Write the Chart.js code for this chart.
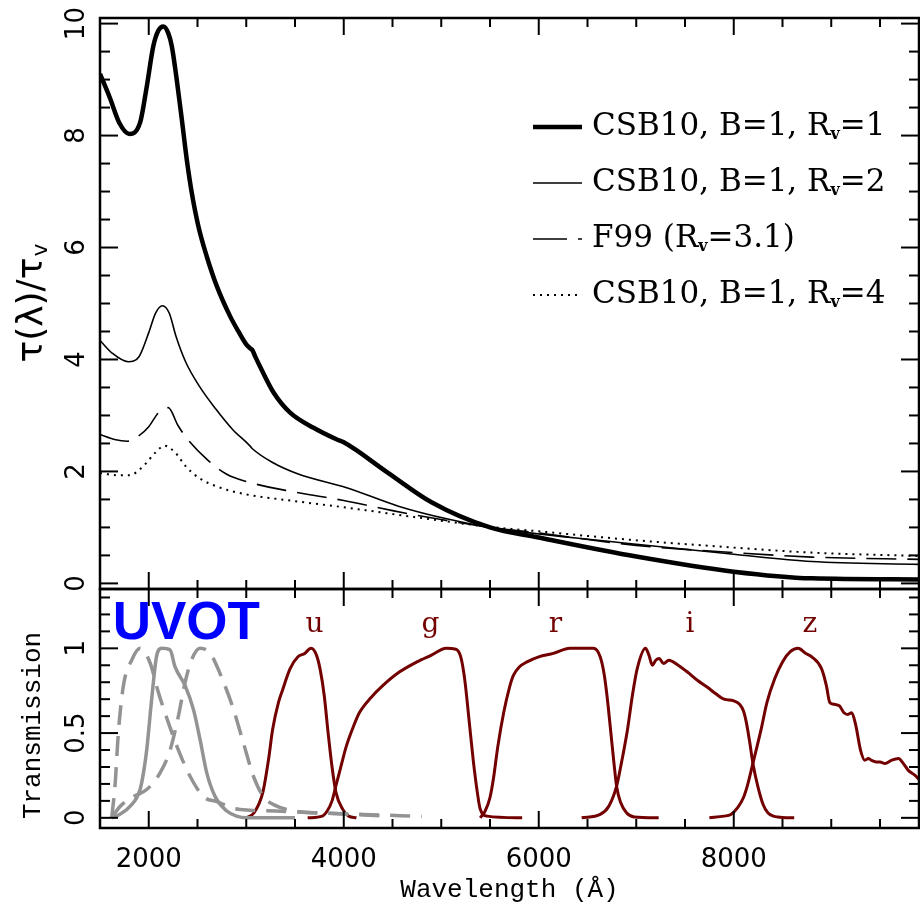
<!DOCTYPE html>
<html>
<head>
    <title>Extinction curves and filter transmission</title>
    <script src="https://cdn.jsdelivr.net/npm/chart.js"></script>
    <style>
        body { margin: 0; background: #fff; }
    </style>
</head>
<body>
    <canvas id="myChart" width="920" height="910"></canvas>
    <script>
        // top panel: tau(lambda)/tau_V
        var csb1Wave = [1500, 1600, 1700, 1800, 1911, 1980, 2047, 2100, 2150, 2200, 2236, 2287, 2339, 2390, 2441, 2509, 2595, 2698, 2835, 2920, 3000, 3040, 3065, 3090, 3140, 3280, 3450, 3690, 3930, 4000, 4450, 4900, 5500, 6000, 7000, 8000, 8800, 9900];
        var csb1Tau  = [9.1, 8.68, 8.22, 8.03, 8.23, 8.88, 9.6, 9.88, 9.95, 9.83, 9.6, 9.0, 8.29, 7.57, 6.98, 6.38, 5.84, 5.31, 4.77, 4.5, 4.27, 4.2, 4.16, 4.06, 3.88, 3.41, 3.05, 2.78, 2.57, 2.52, 1.98, 1.45, 1.0, 0.82, 0.48, 0.21, 0.09, 0.07];

        var csb2Wave = [1500, 1620, 1790, 1900, 2000, 2070, 2140, 2210, 2280, 2380, 2520, 2690, 2860, 3030, 3060, 3270, 3540, 4030, 4560, 5090, 5500, 7000, 8000, 8800, 9900];
        var csb2Tau  = [4.34, 4.12, 3.96, 4.05, 4.48, 4.83, 4.96, 4.83, 4.41, 3.95, 3.52, 3.11, 2.75, 2.47, 2.41, 2.16, 1.95, 1.71, 1.38, 1.14, 1.0, 0.7, 0.52, 0.39, 0.34];

        var f99Wave = [1500, 1650, 1780, 1900, 2000, 2100, 2200, 2300, 2400, 2600, 2800, 3000, 3500, 4000, 4500, 5000, 5500, 6000, 7000, 8000, 8800, 9900];
        var f99Tau  = [2.66, 2.57, 2.54, 2.64, 2.8, 3.05, 3.14, 2.82, 2.57, 2.21, 1.95, 1.82, 1.63, 1.48, 1.3, 1.14, 1.0, 0.9, 0.68, 0.55, 0.47, 0.43];

        var csb4Wave = [1500, 1700, 1800, 1930, 2070, 2160, 2270, 2380, 2510, 2700, 3000, 3500, 4000, 4500, 5000, 5500, 6000, 7000, 8000, 8800, 9900];
        var csb4Tau  = [1.97, 1.93, 1.93, 2.07, 2.34, 2.46, 2.34, 2.09, 1.89, 1.73, 1.59, 1.47, 1.36, 1.24, 1.12, 1.01, 0.93, 0.77, 0.64, 0.55, 0.49];

        var legendNames = ['CSB10, B=1, R|v|=1', 'CSB10, B=1, R|v|=2', 'F99 (R|v|=3.1)', 'CSB10, B=1, R|v|=4'];

        // bottom panel: transmission
        var uvw2Wave = [1620, 1654, 1688, 1740, 1825, 1911, 2013, 2099, 2202, 2304, 2424, 2561, 2698, 2869, 3040, 3300, 3700, 4200, 4800];
        var uvw2T    = [0, 0.19, 0.5, 0.78, 0.93, 1.0, 0.915, 0.74, 0.56, 0.4, 0.245, 0.125, 0.095, 0.056, 0.045, 0.04, 0.03, 0.02, 0.008];

        var uvm2Wave = [1620, 1700, 1808, 1911, 1950, 1979, 2030, 2081, 2133, 2219, 2270, 2373, 2458, 2527, 2595, 2681, 2801, 2900, 3006, 3500];
        var uvm2T    = [0, 0.02, 0.067, 0.167, 0.28, 0.4, 0.7, 0.955, 1.0, 0.99, 0.89, 0.78, 0.64, 0.46, 0.265, 0.125, 0.04, 0.01, 0.0, 0.0];

        var uvw1Wave = [1620, 1705, 1842, 1979, 2116, 2219, 2304, 2373, 2441, 2527, 2630, 2732, 2869, 2972, 3074, 3177, 3280, 3500, 3900, 4450];
        var uvw1T    = [0, 0.067, 0.125, 0.167, 0.265, 0.4, 0.6, 0.8, 0.935, 1.0, 0.97, 0.85, 0.64, 0.44, 0.245, 0.125, 0.078, 0.04, 0.025, 0.01];

        var uWave = [3000, 3080, 3170, 3230, 3270, 3330, 3370, 3450, 3530, 3600, 3665, 3720, 3760, 3800, 3840, 3880, 3920, 3990, 4050, 4130];
        var uT    = [0, 0.03, 0.15, 0.35, 0.52, 0.68, 0.75, 0.88, 0.95, 0.97, 1.0, 0.96, 0.87, 0.72, 0.5, 0.3, 0.15, 0.05, 0.01, 0];

        var gWave = [3630, 3780, 3830, 3880, 3920, 3970, 4025, 4100, 4160, 4280, 4400, 4570, 4750, 4900, 5050, 5150, 5200, 5240, 5290, 5330, 5370, 5400, 5470, 5830];
        var gT    = [0, 0.01, 0.04, 0.1, 0.19, 0.3, 0.42, 0.54, 0.62, 0.71, 0.78, 0.86, 0.92, 0.96, 1.0, 0.995, 0.95, 0.82, 0.55, 0.33, 0.15, 0.05, 0.01, 0];

        var rWave = [5400, 5450, 5500, 5535, 5580, 5640, 5700, 5740, 5800, 5880, 6000, 6150, 6320, 6560, 6630, 6670, 6700, 6740, 6770, 6800, 6840, 6900, 6980, 7230];
        var rT    = [0, 0.04, 0.12, 0.23, 0.42, 0.62, 0.77, 0.84, 0.89, 0.92, 0.95, 0.97, 1.0, 1.0, 0.95, 0.85, 0.72, 0.5, 0.33, 0.18, 0.09, 0.03, 0.005, 0];

        var iWave = [6440, 6630, 6720, 6800, 6850, 6910, 6960, 7010, 7095, 7130, 7165, 7200, 7235, 7280, 7335, 7430, 7525, 7630, 7730, 7820, 7900, 8000, 8060, 8100, 8130, 8160, 8200, 8245, 8300, 8350, 8450, 8620];
        var iT    = [0, 0.02, 0.07, 0.19, 0.33, 0.52, 0.72, 0.88, 1.0, 0.96, 0.9, 0.93, 0.94, 0.91, 0.93, 0.9, 0.86, 0.81, 0.77, 0.73, 0.7, 0.69, 0.67, 0.63, 0.56, 0.46, 0.31, 0.19, 0.08, 0.03, 0.005, 0];

        var zWave = [7750, 7900, 7970, 8040, 8100, 8140, 8200, 8280, 8340, 8420, 8500, 8580, 8660, 8740, 8800, 8900, 8950, 8985, 9030, 9085, 9130, 9170, 9210, 9250, 9300, 9345, 9380, 9410, 9460, 9500, 9550, 9620, 9690, 9740, 9790, 9860, 9910];
        var zT    = [0, 0.01, 0.02, 0.06, 0.12, 0.19, 0.33, 0.52, 0.68, 0.82, 0.92, 0.98, 1.0, 0.97, 0.95, 0.88, 0.78, 0.68, 0.67, 0.66, 0.62, 0.61, 0.62, 0.55, 0.4, 0.34, 0.35, 0.34, 0.33, 0.33, 0.32, 0.34, 0.35, 0.32, 0.28, 0.25, 0.22];

        var filterNames = ['u', 'g', 'r', 'i', 'z'];
        var filterLabelWave = [3700, 4890, 6170, 7550, 8780];

        var xMin = 1500, xMax = 9900;
        var xTickValues = [2000, 4000, 6000, 8000];
        var tickSpec = {
            y:  { min: -0.1, max: 10.1, minor: 0.5, major: 2 },
            y2: { min: -0.06, max: 1.35, minor: 0.1, major: 0.5 }
        };

        var red = '#730000';
        var gray = '#939393';

        function pts(w, v) {
            return w.map(function (x, i) { return { x: x, y: v[i] }; });
        }

        function curve(w, v, axis, color, width, dash) {
            return {
                data: pts(w, v),
                yAxisID: axis,
                borderColor: color,
                borderWidth: width,
                borderDash: dash || [],
                pointRadius: 0,
                fill: false,
                cubicInterpolationMode: 'monotone'
            };
        }

        function line(ctx, x1, y1, x2, y2) {
            ctx.beginPath();
            ctx.moveTo(x1, y1);
            ctx.lineTo(x2, y2);
            ctx.stroke();
        }

        // text with |sub| parts drawn as subscripts, starting at x
        function subText(ctx, str, x, y, size, family) {
            var parts = str.split('|');
            for (var i = 0; i < parts.length; i++) {
                if (i % 2 === 1) {
                    ctx.font = 'bold ' + Math.round(size * 0.5) + 'px ' + family;
                    ctx.fillText(parts[i], x, y + size * 0.25);
                } else {
                    ctx.font = size + 'px ' + family;
                    ctx.fillText(parts[i], x, y);
                }
                x += ctx.measureText(parts[i]).width;
            }
            return x;
        }

        var framePlugin = {
            id: 'frame',
            afterDraw: function (chart) {
                var ctx = chart.ctx, area = chart.chartArea, xs = chart.scales.x;
                ctx.save();
                ctx.strokeStyle = '#000';
                ctx.fillStyle = '#000';

                ['y', 'y2'].forEach(function (id) {
                    var ys = chart.scales[id], t = tickSpec[id];
                    var top = ys.top, bot = ys.bottom;
                    ctx.lineWidth = 2;
                    for (var w = 1500; w <= xMax; w += 500) {
                        var px = xs.getPixelForValue(w);
                        var len = (w % 2000 === 0) ? 17 : 9;
                        line(ctx, px, bot, px, bot - len);
                        line(ctx, px, top, px, top + len);
                    }
                    var k0 = Math.ceil(t.min / t.minor - 1e-6), k1 = Math.floor(t.max / t.minor + 1e-6);
                    for (var k = k0; k <= k1; k++) {
                        var v = Math.round(k * t.minor * 100) / 100;
                        var py = ys.getPixelForValue(v);
                        var r = v / t.major;
                        var major = Math.abs(r - Math.round(r)) < 1e-6;
                        var tl = major ? 18 : 10;
                        line(ctx, area.left, py, area.left + tl, py);
                        line(ctx, area.right, py, area.right - tl, py);
                        if (major) {
                            ctx.save();
                            ctx.translate(77, py);
                            ctx.rotate(-Math.PI / 2);
                            ctx.font = '26px "DejaVu Sans"';
                            ctx.textAlign = 'center';
                            ctx.textBaseline = 'middle';
                            ctx.fillText(String(v), 0, 0);
                            ctx.restore();
                        }
                    }
                    ctx.lineWidth = 2.5;
                    ctx.strokeRect(area.left, top, area.right - area.left, bot - top);
                });

                // y titles
                var yt = chart.scales.y, yb = chart.scales.y2;
                ctx.save();
                ctx.translate(33, (yt.top + yt.bottom) / 2);
                ctx.rotate(-Math.PI / 2);
                ctx.textBaseline = 'middle';
                ctx.font = '36px "DejaVu Sans"';
                var main = 'τ(λ)/τ';
                var mw = ctx.measureText(main).width;
                ctx.font = '22px "DejaVu Sans"';
                var sw = ctx.measureText('v').width;
                var x0 = -(mw + sw) / 2;
                ctx.font = '36px "DejaVu Sans"';
                ctx.fillText(main, x0, 0);
                ctx.font = '22px "DejaVu Sans"';
                ctx.fillText('v', x0 + mw + 1, 8);
                ctx.restore();

                ctx.save();
                ctx.translate(33, (yb.top + yb.bottom) / 2 + 17);
                ctx.rotate(-Math.PI / 2);
                ctx.font = '26px "Liberation Mono"';
                ctx.textAlign = 'center';
                ctx.textBaseline = 'middle';
                ctx.fillText('Transmission', 0, 0);
                ctx.restore();

                // legend
                var styles = [
                    { w: 4.5, dash: [] },
                    { w: 1.6, dash: [] },
                    { w: 1.6, dash: [34, 11] },
                    { w: 2, dash: [2, 5] }
                ];
                var lx = area.right - 386;
                legendNames.forEach(function (name, i) {
                    var ly = area.top + 109 + i * 56;
                    ctx.lineWidth = styles[i].w;
                    ctx.setLineDash(styles[i].dash);
                    line(ctx, lx, ly, lx + 49, ly);
                    ctx.setLineDash([]);
                    ctx.textBaseline = 'middle';
                    ctx.textAlign = 'left';
                    subText(ctx, name, lx + 59, ly, 31, '"DejaVu Serif"');
                });

                // filter labels
                ctx.textAlign = 'center';
                ctx.textBaseline = 'middle';
                ctx.fillStyle = red;
                ctx.font = '28px "DejaVu Serif"';
                filterNames.forEach(function (n, i) {
                    ctx.fillText(n, xs.getPixelForValue(filterLabelWave[i]), yb.getPixelForValue(1.14));
                });
                ctx.fillStyle = '#0000ff';
                ctx.textAlign = 'left';
                ctx.font = 'bold 53px "Liberation Sans"';
                ctx.fillText('UVOT', xs.getPixelForValue(1630), yb.getPixelForValue(1.14));

                ctx.restore();
            }
        };

        var ctx = document.getElementById('myChart').getContext('2d');
        var chart = new Chart(ctx, {
            type: 'line',
            data: {
                datasets: [
                    curve(csb1Wave, csb1Tau, 'y', '#000', 4.5),
                    curve(csb2Wave, csb2Tau, 'y', '#000', 1.6),
                    curve(f99Wave, f99Tau, 'y', '#000', 1.6, [30, 11]),
                    curve(csb4Wave, csb4Tau, 'y', '#000', 2, [2, 5]),
                    curve(uvw2Wave, uvw2T, 'y2', gray, 3.5, [20, 11]),
                    curve(uvm2Wave, uvm2T, 'y2', gray, 3.5),
                    curve(uvw1Wave, uvw1T, 'y2', gray, 3.5, [20, 11]),
                    curve(uWave, uT, 'y2', red, 3),
                    curve(gWave, gT, 'y2', red, 3),
                    curve(rWave, rT, 'y2', red, 3),
                    curve(iWave, iT, 'y2', red, 3),
                    curve(zWave, zT, 'y2', red, 3)
                ]
            },
            options: {
                responsive: false,
                animation: false,
                layout: { padding: { left: 0, top: 18, right: 1, bottom: 0 } },
                plugins: {
                    legend: { display: false },
                    tooltip: { enabled: false }
                },
                scales: {
                    x: {
                        type: 'linear',
                        min: xMin,
                        max: xMax,
                        grid: { display: false },
                        border: { display: false },
                        afterBuildTicks: function (s) {
                            s.ticks = xTickValues.map(function (v) { return { value: v }; });
                        },
                        ticks: {
                            maxRotation: 0,
                            autoSkip: false,
                            padding: 9,
                            color: '#000',
                            font: { family: 'DejaVu Sans', size: 26 },
                            callback: function (v) { return String(v); }
                        },
                        title: {
                            display: true,
                            text: 'Wavelength (Å)',
                            color: '#000',
                            font: { family: 'Liberation Mono', size: 26 },
                            padding: { top: 0, bottom: 4 }
                        },
                        afterFit: function (s) { s.height = 82; }
                    },
                    // y2 listed first so that y is stacked on top
                    y2: {
                        type: 'linear',
                        position: 'left',
                        stack: 'panels',
                        stackWeight: 239,
                        min: tickSpec.y2.min,
                        max: tickSpec.y2.max,
                        grid: { display: false },
                        border: { display: false },
                        ticks: { display: false },
                        afterFit: function (s) { s.width = 100; }
                    },
                    y: {
                        type: 'linear',
                        position: 'left',
                        stack: 'panels',
                        stackWeight: 571,
                        min: tickSpec.y.min,
                        max: tickSpec.y.max,
                        grid: { display: false },
                        border: { display: false },
                        ticks: { display: false },
                        afterFit: function (s) { s.width = 100; }
                    }
                }
            },
            plugins: [framePlugin]
        });
    </script>
</body>
</html>
